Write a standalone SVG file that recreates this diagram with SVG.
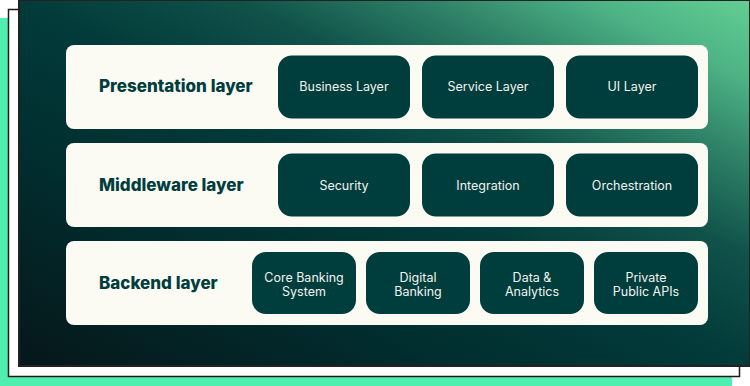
<svg xmlns="http://www.w3.org/2000/svg" width="750" height="386" viewBox="0 0 750 386">
  <defs>
    <linearGradient id="bg" x1="0" y1="1" x2="1" y2="0">
      <stop offset="0" stop-color="#06171a"/>
      <stop offset="0.3" stop-color="#012e2f"/>
      <stop offset="0.5" stop-color="#023b3a"/>
      <stop offset="0.65" stop-color="#10524a"/>
      <stop offset="0.77" stop-color="#2d7f65"/>
      <stop offset="0.89" stop-color="#4db385"/>
      <stop offset="1" stop-color="#62cf94"/>
    </linearGradient>
    <style>
      .row { fill: #fbfaf3; }
      .box { fill: #003d3d; }
      .label { font-family: Inter, "Liberation Sans", sans-serif; font-weight: 800; font-size: 17px; fill: #003d3d; }
      .t { font-family: Inter, "Liberation Sans", sans-serif; font-size: 12.5px; fill: #f4f4ee; text-anchor: middle; }
    </style>
  </defs>

  <g id="backdrop">
    <rect x="0" y="18" width="732" height="368" fill="#50efb0"/>
    <rect x="8.5" y="9.5" width="731" height="367" fill="#ffffff" stroke="#1a1a1a" stroke-width="1.5"/>
    <rect x="19" y="0" width="731" height="366" fill="url(#bg)" stroke="#222222" stroke-width="2"/>
  </g>

  <g id="presentation-layer">
    <rect class="row" x="66" y="45" width="642" height="84" rx="8"/>
    <text class="label" x="99" y="92">Presentation layer</text>
  </g>
  <g id="business-layer">
    <rect class="box" x="278" y="55.5" width="132" height="63" rx="14"/>
    <text class="t" x="344" y="91">Business Layer</text>
  </g>
  <g id="service-layer">
    <rect class="box" x="422" y="55.5" width="132" height="63" rx="14"/>
    <text class="t" x="488" y="91">Service Layer</text>
  </g>
  <g id="ui-layer">
    <rect class="box" x="566" y="55.5" width="132" height="63" rx="14"/>
    <text class="t" x="632" y="91">UI Layer</text>
  </g>

  <g id="middleware-layer">
    <rect class="row" x="66" y="143" width="642" height="84" rx="8"/>
    <text class="label" x="99" y="191">Middleware layer</text>
  </g>
  <g id="security">
    <rect class="box" x="278" y="153.5" width="132" height="63" rx="14"/>
    <text class="t" x="344" y="189.5">Security</text>
  </g>
  <g id="integration">
    <rect class="box" x="422" y="153.5" width="132" height="63" rx="14"/>
    <text class="t" x="488" y="189.5">Integration</text>
  </g>
  <g id="orchestration">
    <rect class="box" x="566" y="153.5" width="132" height="63" rx="14"/>
    <text class="t" x="632" y="189.5">Orchestration</text>
  </g>

  <g id="backend-layer">
    <rect class="row" x="66" y="241" width="642" height="84" rx="8"/>
    <text class="label" x="99" y="289">Backend layer</text>
  </g>
  <g id="core-banking">
    <rect class="box" x="252" y="252" width="104" height="62" rx="14"/>
    <text class="t" x="304" y="281.5">Core Banking</text>
    <text class="t" x="304" y="296">System</text>
  </g>
  <g id="digital-banking">
    <rect class="box" x="366" y="252" width="104" height="62" rx="14"/>
    <text class="t" x="418" y="281.5">Digital</text>
    <text class="t" x="418" y="296">Banking</text>
  </g>
  <g id="data-analytics">
    <rect class="box" x="480" y="252" width="104" height="62" rx="14"/>
    <text class="t" x="532" y="281.5">Data &amp;</text>
    <text class="t" x="532" y="296">Analytics</text>
  </g>
  <g id="apis">
    <rect class="box" x="594" y="252" width="104" height="62" rx="14"/>
    <text class="t" x="646" y="281.5">Private</text>
    <text class="t" x="646" y="296">Public APIs</text>
  </g>

  <g id="connectors"/>
</svg>
